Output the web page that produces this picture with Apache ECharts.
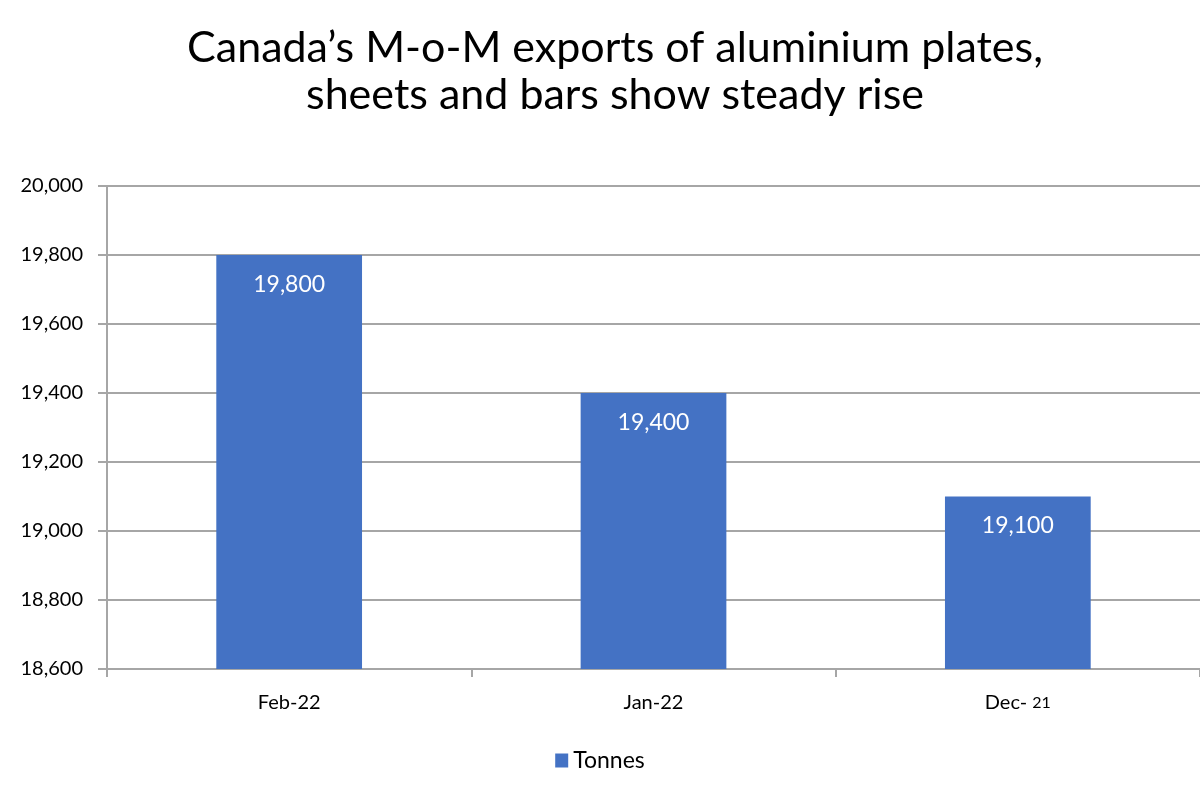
<!DOCTYPE html>
<html><head><meta charset="utf-8">
<script src="https://cdn.jsdelivr.net/npm/echarts@6/dist/echarts.min.js"></script>
<style>html,body{margin:0;padding:0;background:#fff}#c{width:1200px;height:800px}</style>
</head><body><div id="c"></div>
<script>
const titleText = 'Canada\u2019s M-o-M exports of aluminium plates,\nsheets and bars show steady rise';
const categories = ['Feb-22', 'Jan-22', 'Dec- 21'];
const seriesName = 'Tonnes';
const values = [19800, 19400, 19100];
const yMin = 18600, yMax = 20000, yStep = 200;

const chart = echarts.init(document.getElementById('c'));
const font = 'Lato, "Open Sans", sans-serif';
chart.setOption({
  animation: false,
  backgroundColor: '#fff',
  title: {
    text: titleText, left: 610, textAlign: 'center', top: 20,
    textStyle: {fontFamily: font, fontSize: 43, fontWeight: 'normal', color: '#000', lineHeight: 47}
  },
  legend: {
    data: [seriesName], bottom: 23, left: 'center', icon: 'rect', itemWidth: 13, itemHeight: 14, itemGap: 6,
    textStyle: {fontFamily: font, fontSize: 23, color: '#000'}
  },
  grid: {left: 107, right: -7, top: 186, bottom: 131, containLabel: false},
  xAxis: {
    type: 'category', data: categories,
    axisLine: {lineStyle: {color: '#a6a6a6', width: 2}},
    axisTick: {show: true, length: 8, lineStyle: {color: '#a6a6a6', width: 2}},
    axisLabel: {fontFamily: font, fontSize: 20, color: '#000', margin: 24,
      formatter: v => v.replace(/ (\d+)$/, ' {s|$1}'),
      rich: {s: {fontFamily: font, fontSize: 16, color: '#000'}}}
  },
  yAxis: {
    type: 'value', min: yMin, max: yMax, interval: yStep,
    axisLine: {show: true, lineStyle: {color: '#a6a6a6', width: 2}},
    axisTick: {show: true, length: 9, lineStyle: {color: '#a6a6a6', width: 2}},
    splitLine: {lineStyle: {color: '#a6a6a6', width: 2}},
    axisLabel: {fontFamily: font, fontSize: 20, color: '#000', margin: 24,
      formatter: v => v.toLocaleString('en-US')}
  },
  series: [{
    name: seriesName, type: 'bar', data: values, barWidth: '40%',
    itemStyle: {color: '#4472C4'},
    label: {show: true, position: 'insideTop', distance: 18, color: '#fff',
      fontFamily: font, fontSize: 23, formatter: p => p.value.toLocaleString('en-US')}
  }]
});
</script></body></html>
